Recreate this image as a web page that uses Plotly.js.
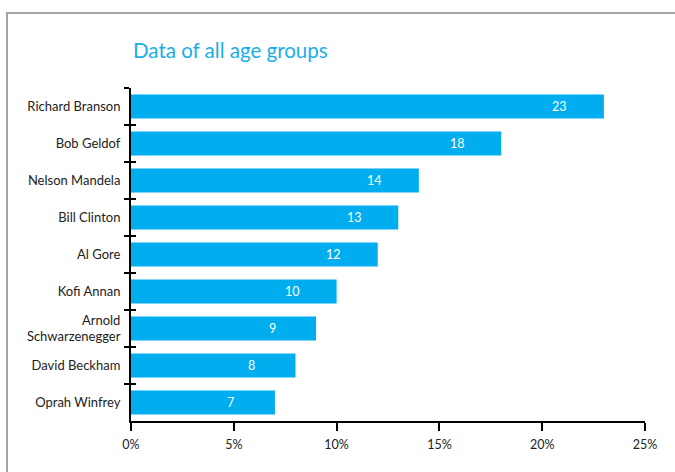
<!DOCTYPE html>
<html>
<head>
<meta charset="utf-8">
<script src="https://cdn.plot.ly/plotly-3.0.1.min.js"></script>
<style>
  html, body { margin: 0; padding: 0; background: #fff; }
  #wrap { position: relative; width: 675px; height: 472px; overflow: hidden; }
  #chart { position: absolute; left: 0; top: 0; width: 675px; height: 472px; }
  #frame { position: absolute; left: 6px; top: 12px; width: 680px; height: 480px;
           border-top: 2px solid #a3a3a3; border-left: 2px solid #a3a3a3; pointer-events: none; }
</style>
</head>
<body>
<div id="wrap">
  <div id="chart"></div>
  <div id="frame"></div>
</div>
<script>
const names = ["Richard Branson", "Bob Geldof", "Nelson Mandela", "Bill Clinton", "Al Gore",
               "Kofi Annan", "Arnold<br>Schwarzenegger", "David Beckham", "Oprah Winfrey"];
const values = [23, 18, 14, 13, 12, 10, 9, 8, 7];
const xTicks = [0, 5, 10, 15, 20, 25];
const titleText = "Data of all age groups";

const barColor = "#00aeef";
const font = "Lato, 'Noto Sans', sans-serif";

const traces = [
  {
    type: "bar", orientation: "h",
    x: values, y: names,
    marker: { color: barColor },
    hoverinfo: "skip", showlegend: false
  },
  {
    type: "scatter", mode: "markers",
    x: values, y: names, yaxis: "y2",
    marker: { opacity: 0 }, hoverinfo: "skip", showlegend: false
  }
];

const annotations = values.map((v, i) => ({
  x: v, y: names[i], xref: "x", yref: "y",
  text: String(v), showarrow: false, xshift: -44,
  xanchor: "center", yanchor: "middle",
  font: { family: font, size: 12.5, color: "#ffffff" }
}));

const layout = {
  width: 675, height: 472,
  margin: { l: 131, r: 30, t: 88, b: 51 },
  paper_bgcolor: "#ffffff", plot_bgcolor: "#ffffff",
  bargap: 0.35,
  hovermode: false,
  font: { family: font, size: 12.5, color: "#222222" },
  title: {
    text: titleText,
    font: { family: font, size: 20.5, color: "#1aaee8" },
    xref: "container", x: 133 / 675, xanchor: "left",
    yref: "container", y: 1 - 51 / 472, yanchor: "middle"
  },
  xaxis: {
    range: [0, 25],
    tickvals: xTicks, ticktext: xTicks.map(t => t + "%"),
    ticks: "outside", ticklen: 8, tickwidth: 2, tickcolor: "#000",
    ticklabelstandoff: 3,
    showline: true, linecolor: "#000", linewidth: 2,
    showgrid: false, zeroline: false, fixedrange: true,
    tickfont: { family: font, size: 12.5, color: "#222" }
  },
  yaxis: {
    type: "category", categoryorder: "array", categoryarray: names,
    range: [names.length - 0.5, -0.5],
    ticks: "outside", tickson: "boundaries", ticklen: 5, tickwidth: 2, tickcolor: "#000",
    ticklabelstandoff: 6,
    showline: true, linecolor: "#000", linewidth: 2,
    showgrid: false, zeroline: false, fixedrange: true,
    tickfont: { family: font, size: 13, color: "#222" }
  },
  yaxis2: {
    type: "category", categoryorder: "array", categoryarray: names,
    range: [names.length - 0.5, -0.5],
    overlaying: "y", side: "left",
    ticks: "inside", tickson: "boundaries", ticklen: 5, tickwidth: 2, tickcolor: "#000",
    showticklabels: false, showline: false, showgrid: false, zeroline: false, fixedrange: true
  },
  annotations: annotations
};

Plotly.newPlot("chart", traces, layout, { displayModeBar: false, staticPlot: true });
</script>
</body>
</html>
